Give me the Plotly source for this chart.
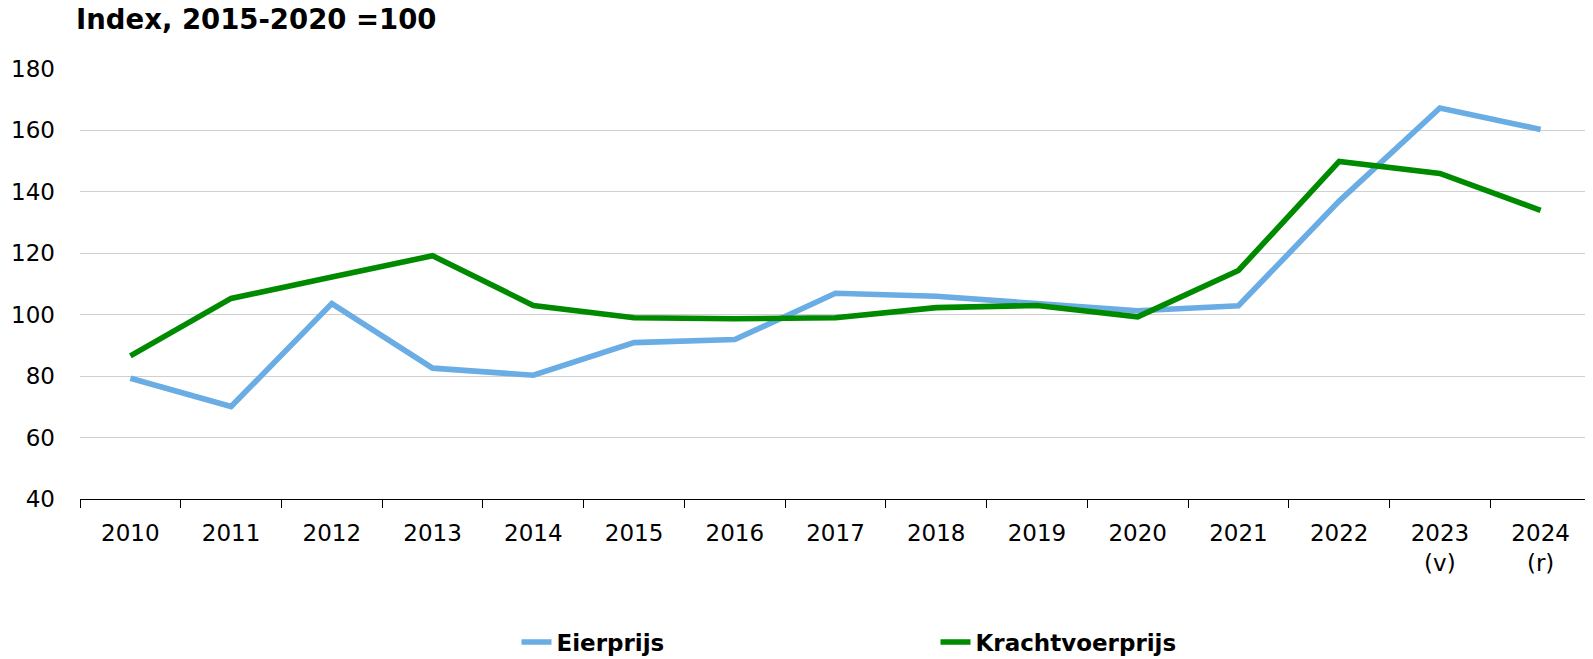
import plotly.graph_objects as go

years = ["2010", "2011", "2012", "2013", "2014", "2015", "2016", "2017",
         "2018", "2019", "2020", "2021", "2022", "2023<br>(v)", "2024<br>(r)"]
eierprijs = [79.3, 70.1, 103.6, 82.6, 80.3, 90.9, 91.9, 107.0,
             106.0, 103.6, 101.3, 102.9, 137.0, 167.3, 160.3]
krachtvoerprijs = [86.6, 105.3, 112.3, 119.2, 103.0, 99.0, 98.7, 99.0,
                   102.3, 103.0, 99.3, 114.4, 149.9, 146.0, 134.0]
y_ticks = [40, 60, 80, 100, 120, 140, 160, 180]

FONT = "DejaVu Sans"
# the page body has an 8px margin, so the figure is drawn 8px in from the corner
W, H = 1585, 651
L, R, T, B = 72, 2, 61, 160

fig = go.Figure()
fig.add_trace(go.Scatter(x=years, y=eierprijs, mode="lines", name="Eierprijs",
                         line=dict(color="#6AACE4", width=5.6)))
fig.add_trace(go.Scatter(x=years, y=krachtvoerprijs, mode="lines", name="Krachtvoerprijs",
                         line=dict(color="#008A00", width=5.6)))

plot_w = W - L - R
plot_h = H - T - B
bottom = H - B

fig.update_layout(
    width=W, height=H,
    margin=dict(l=L, r=R, t=T, b=B, pad=0, autoexpand=False),
    plot_bgcolor="white", paper_bgcolor="white",
    font=dict(family=FONT, size=23, color="black"),
    showlegend=True,
    legend=dict(orientation="h", x=436.5 / plot_w, xanchor="left",
                y=-(634 - bottom) / plot_h, yanchor="middle",
                font=dict(family=FONT, size=23, color="black", weight="bold"),
                entrywidth=374, entrywidthmode="pixels",
                bgcolor="rgba(0,0,0,0)"),
    xaxis=dict(type="category", tickson="boundaries", ticks="outside", ticklen=8,
               tickcolor="black", showline=True, linecolor="black", linewidth=1,
               showgrid=False, tickfont=dict(family=FONT, size=23),
               ticklabelstandoff=13, automargin=False,
               range=[-0.5, len(years) - 0.5]),
    yaxis=dict(range=[40, 180], tickvals=y_ticks, showgrid=True, gridcolor="#D0D0D0",
               gridwidth=1, zeroline=False, showline=False, ticks="",
               ticklabelstandoff=24, automargin=False,
               tickfont=dict(family=FONT, size=23)),
)

fig.add_annotation(text="<b>Index, 2015-2020 =100</b>", xref="paper", yref="paper",
                   x=-6 / plot_w, xanchor="left",
                   y=(bottom - 10.5) / plot_h, yanchor="middle",
                   showarrow=False, font=dict(family=FONT, size=27.5, color="black"))

fig.write_html("out.html")
